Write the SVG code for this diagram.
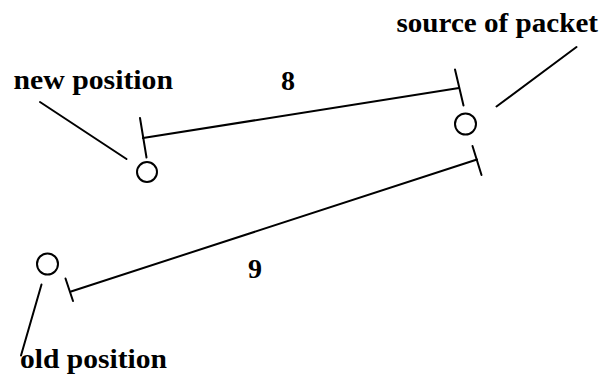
<svg xmlns="http://www.w3.org/2000/svg" width="603" height="388" viewBox="0 0 603 388">
<style>
.ln{stroke:#000;stroke-width:2;fill:none;stroke-linecap:round}
.nd{stroke:#000;stroke-width:2;fill:#fff}
.t{font-family:"Liberation Serif","Times New Roman",serif;font-size:28px;font-weight:bold;fill:#000}
</style>
<rect width="603" height="388" fill="#fff"/>
<g id="connectors">
<line class="ln" x1="143" y1="138" x2="459" y2="88"/>
<line class="ln" x1="140" y1="118" x2="146.5" y2="157.5"/>
<line class="ln" x1="455" y1="69.5" x2="463.5" y2="105.5"/>
<line class="ln" x1="71" y1="291.5" x2="477" y2="159.5"/>
<line class="ln" x1="65.5" y1="278.5" x2="73" y2="301"/>
<line class="ln" x1="472.5" y1="146" x2="481.5" y2="175"/>
<line class="ln" x1="40" y1="102" x2="126.5" y2="159"/>
<line class="ln" x1="576.5" y1="47" x2="496.5" y2="106.5"/>
<line class="ln" x1="41.5" y1="284.5" x2="21" y2="355.5"/>
</g>
<g id="label-8"><text class="t" x="288" y="90" text-anchor="middle">8</text></g>
<g id="label-9"><text class="t" x="255" y="278" text-anchor="middle">9</text></g>
<g id="new-position">
<circle class="nd" cx="147" cy="172" r="10"/>
<text class="t" x="13.5" y="89" textLength="159.5" lengthAdjust="spacingAndGlyphs">new position</text>
</g>
<g id="source-of-packet">
<circle class="nd" cx="465.5" cy="124" r="10.5"/>
<text class="t" x="396.5" y="32" textLength="201.5" lengthAdjust="spacingAndGlyphs">source of packet</text>
</g>
<g id="old-position">
<circle class="nd" cx="47.5" cy="264" r="10.5"/>
<text class="t" x="20" y="368" textLength="147" lengthAdjust="spacingAndGlyphs">old position</text>
</g>
</svg>
